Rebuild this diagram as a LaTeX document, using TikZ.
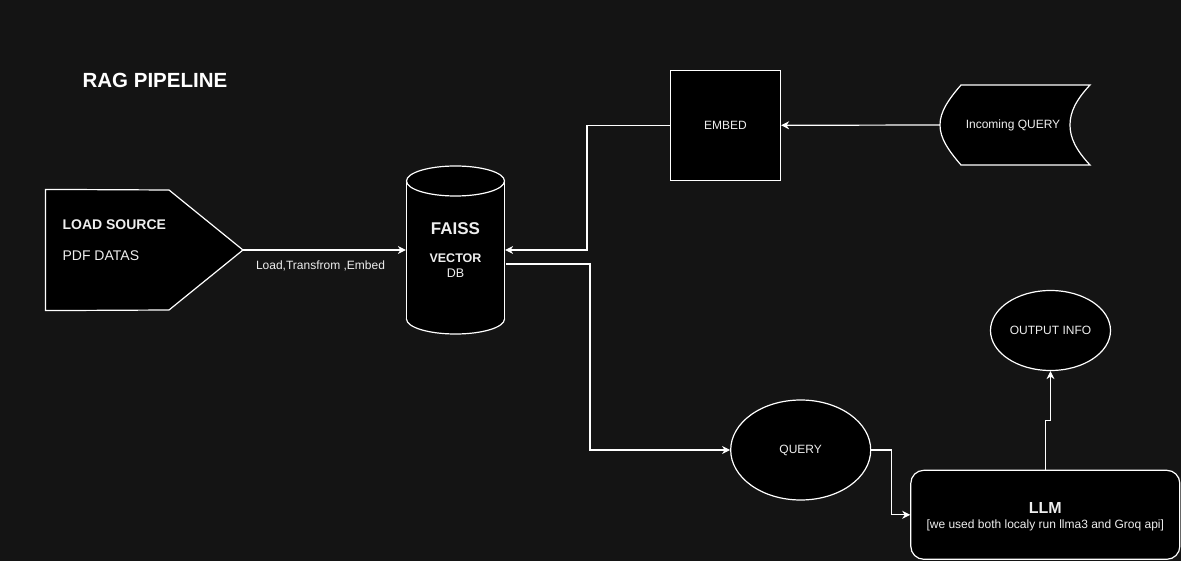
\documentclass[tikz,border=0pt]{standalone}
\usepackage{fontspec}
\setmainfont{Liberation Sans}
\usetikzlibrary{arrows.meta,shapes.geometric}
\definecolor{bg}{HTML}{141414}
\definecolor{fg}{HTML}{EEEEEE}
\begin{document}
\begin{tikzpicture}[x=1pt,y=-1pt,line width=1.2pt,
  box/.style={draw=white,fill=black,text=fg,font=\fontsize{12}{14}\selectfont,inner sep=0pt},
  conn/.style={draw=white,-{Stealth[length=8pt,width=8pt,inset=2.5pt]}},
  lbl/.style={text=fg,inner sep=0pt,font=\fontsize{12}{14}\selectfont},
  txt/.style={text=fg,inner sep=0pt,font=\fontsize{12}{14}\selectfont},
  btxt/.style={text=fg,inner sep=0pt}]
\fill[bg] (0,0) rectangle (1181,561);
\useasboundingbox (0,0) rectangle (1181,561);

% title
\node[text=white,inner sep=0pt,anchor=west,font=\bfseries\fontsize{20.5}{23}\selectfont] (title) at (82,80) {RAG PIPELINE};

% load source pentagon
\node[inner sep=0pt,minimum width=197pt,minimum height=120pt] (src) at (144.5,250) {};
\coordinate (srctip) at (243,250);
\draw[white,fill=black] (src.north west) -- (169,190) -- (srctip) -- (169,310) -- (src.south west) -- cycle;
\node[btxt,anchor=west,font=\bfseries\fontsize{14}{16}\selectfont] (srct) at (62,225) {LOAD SOURCE};
\node[btxt,anchor=west,font=\fontsize{14}{16}\selectfont] (srcs) at (62,256) {PDF DATAS};

% cylinder
\node[inner sep=0pt,minimum width=98pt,minimum height=168pt] (db) at (455.5,250) {};
\filldraw[white,fill=black] (455.5,319) ellipse[x radius=49pt,y radius=15pt];
\fill[black] (406.5,181) rectangle (504.5,319);
\draw[white] (406.5,181) -- (406.5,319);
\draw[white] (504.5,181) -- (504.5,319);
\filldraw[white,fill=black] (455.5,181) ellipse[x radius=49pt,y radius=15pt];
\node[btxt,font=\bfseries\fontsize{17}{19}\selectfont] (dbt) at (455.5,229) {FAISS};
\node[btxt,font=\bfseries\fontsize{12.5}{14}\selectfont] (dbv) at (455.5,258) {VECTOR};
\node[btxt,font=\fontsize{12.5}{14}\selectfont] (dbd) at (455.5,273) {DB};
\coordinate (dbout) at (506,264);

% embed box
\node[box,minimum width=110pt,minimum height=110pt] (embed) at (725.5,125.3) {EMBED};

% incoming query
\draw[white,fill=black] (961,85) -- (1090,85)
  .. controls (1076,100) and (1070,112) .. (1070,125)
  .. controls (1070,138) and (1076,150) .. (1090,165)
  -- (961,165)
  .. controls (948,150) and (940,138) .. (940,125)
  .. controls (940,112) and (948,100) .. (961,85) -- cycle;
\coordinate (inqw) at (940,125);
\node[txt] (inq) at (1013,125) {Incoming QUERY};

% query ellipse
\node[box,ellipse,minimum width=140pt,minimum height=100pt] (query) at (800.7,450) {QUERY};

% LLM
\node[box,rounded corners=13pt,minimum width=269pt,minimum height=89pt] (llm) at (1045.3,514.8) {};
\node[btxt,font=\bfseries\fontsize{16}{18}\selectfont] (llmt) at (1045.3,507.7) {LLM};
\node[lbl] (llmn) at (1045.3,525.7) {[we used both localy run llma3 and Groq api]};

% output
\node[box,ellipse,minimum width=120pt,minimum height=80pt] (out) at (1050.5,330.5) {OUTPUT INFO};

% connectors
\draw[conn] (srctip) -- (db.west);
\node[lbl] (edgelbl) at (320.5,265.5) {Load,Transfrom ,Embed};
\draw[conn] (inqw) -- (embed.east);
\draw[conn] (embed.west) -- ++(-83,0) |- (db.east);
\draw[conn] (dbout) -- ++(84,0) |- (query.west);
\draw[conn] (query.east) -- ++(20,0) |- (llm.west);
\draw[conn] (llm.north) -- ++(0,-49.5) -| (out.south);
\end{tikzpicture}
\end{document}
